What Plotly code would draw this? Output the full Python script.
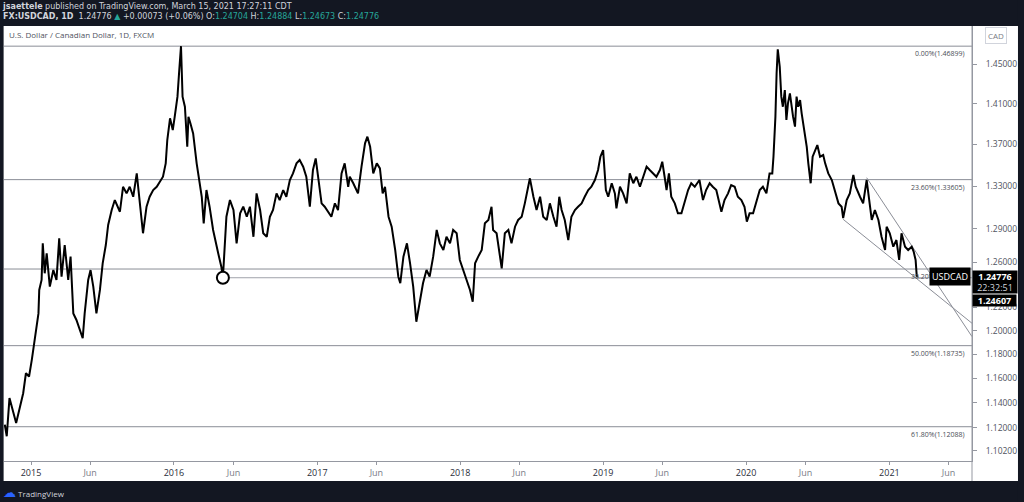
import math
import plotly.graph_objects as go

# ---------------- data ----------------
price_dates = [
    "2014-10-26", "2014-10-31", "2014-11-07", "2014-11-17", "2014-11-24", "2014-12-04", "2014-12-12", "2014-12-19",
    "2014-12-27", "2015-01-03", "2015-01-11", "2015-01-20", "2015-01-22", "2015-01-28", "2015-01-31", "2015-02-05",
    "2015-02-10", "2015-02-18", "2015-02-27", "2015-03-07", "2015-03-14", "2015-03-20", "2015-03-28", "2015-04-06",
    "2015-04-12", "2015-04-19", "2015-04-27", "2015-05-06", "2015-05-13", "2015-05-18", "2015-05-27", "2015-06-02",
    "2015-06-09", "2015-06-17", "2015-06-26", "2015-07-03", "2015-07-11", "2015-07-17", "2015-07-26", "2015-08-03",
    "2015-08-09", "2015-08-16", "2015-08-24", "2015-09-02", "2015-09-10", "2015-09-19", "2015-09-28", "2015-10-06",
    "2015-10-14", "2015-10-23", "2015-10-31", "2015-11-09", "2015-11-18", "2015-11-26", "2015-12-04", "2015-12-11",
    "2015-12-15", "2015-12-22", "2015-12-29", "2016-01-03", "2016-01-10", "2016-01-14", "2016-01-19", "2016-01-23",
    "2016-01-29", "2016-02-04", "2016-02-07", "2016-02-12", "2016-02-19", "2016-02-28", "2016-03-07", "2016-03-12",
    "2016-03-17", "2016-03-24", "2016-04-01", "2016-04-10", "2016-04-23", "2016-05-01", "2016-05-05", "2016-05-14",
    "2016-05-23", "2016-06-01", "2016-06-09", "2016-06-18", "2016-06-26", "2016-07-05", "2016-07-13", "2016-07-22",
    "2016-07-30", "2016-08-08", "2016-08-16", "2016-08-25", "2016-09-02", "2016-09-10", "2016-09-19", "2016-09-27",
    "2016-10-06", "2016-10-14", "2016-10-23", "2016-10-31", "2016-11-09", "2016-11-17", "2016-11-26", "2016-12-04",
    "2016-12-13", "2016-12-21", "2016-12-28", "2017-01-03", "2017-01-12", "2017-01-20", "2017-01-29", "2017-02-06",
    "2017-02-15", "2017-02-23", "2017-03-04", "2017-03-12", "2017-03-21", "2017-03-25", "2017-04-03", "2017-04-15",
    "2017-04-24", "2017-05-03", "2017-05-09", "2017-05-16", "2017-05-24", "2017-06-02", "2017-06-10", "2017-06-17",
    "2017-06-23", "2017-07-02", "2017-07-10", "2017-07-19", "2017-07-27", "2017-08-01", "2017-08-09", "2017-08-18",
    "2017-08-26", "2017-09-03", "2017-09-11", "2017-09-20", "2017-09-28", "2017-10-07", "2017-10-15", "2017-10-24",
    "2017-11-02", "2017-11-10", "2017-11-19", "2017-11-27", "2017-12-06", "2017-12-14", "2017-12-23", "2017-12-31",
    "2018-01-09", "2018-01-17", "2018-01-26", "2018-02-02", "2018-02-08", "2018-02-16", "2018-02-25", "2018-03-05",
    "2018-03-14", "2018-03-22", "2018-03-26", "2018-04-04", "2018-04-12", "2018-04-17", "2018-04-25", "2018-05-04",
    "2018-05-12", "2018-05-21", "2018-05-29", "2018-06-07", "2018-06-15", "2018-06-24", "2018-06-28", "2018-07-07",
    "2018-07-15", "2018-07-24", "2018-08-01", "2018-08-10", "2018-08-18", "2018-08-27", "2018-09-04", "2018-09-11",
    "2018-09-17", "2018-09-25", "2018-10-04", "2018-10-12", "2018-10-21", "2018-10-29", "2018-11-07", "2018-11-15",
    "2018-11-24", "2018-12-02", "2018-12-11", "2018-12-19", "2018-12-25", "2019-01-01", "2019-01-08", "2019-01-14",
    "2019-01-23", "2019-01-31", "2019-02-04", "2019-02-13", "2019-02-21", "2019-03-02", "2019-03-10", "2019-03-19",
    "2019-03-27", "2019-04-05", "2019-04-22", "2019-04-30", "2019-05-17", "2019-05-26", "2019-06-01", "2019-06-07",
    "2019-06-12", "2019-06-18", "2019-06-24", "2019-07-03", "2019-07-11", "2019-07-20", "2019-07-28", "2019-08-06",
    "2019-08-14", "2019-08-23", "2019-09-04", "2019-09-13", "2019-09-21", "2019-09-30", "2019-10-08", "2019-10-17",
    "2019-10-30", "2019-11-07", "2019-11-16", "2019-11-24", "2019-12-03", "2019-12-11", "2019-12-20", "2019-12-28",
    "2020-01-03", "2020-01-10", "2020-01-19", "2020-01-27", "2020-02-05", "2020-02-13", "2020-02-22", "2020-03-01",
    "2020-03-08", "2020-03-11", "2020-03-16", "2020-03-19", "2020-03-22", "2020-03-27", "2020-03-31", "2020-04-04",
    "2020-04-09", "2020-04-13", "2020-04-17", "2020-04-22", "2020-04-26", "2020-04-30", "2020-05-05", "2020-05-09",
    "2020-05-13", "2020-05-18", "2020-05-22", "2020-05-26", "2020-05-30", "2020-06-04", "2020-06-08", "2020-06-14",
    "2020-06-19", "2020-06-25", "2020-07-01", "2020-07-08", "2020-07-16", "2020-07-21", "2020-07-29", "2020-08-07",
    "2020-08-15", "2020-08-24", "2020-09-01", "2020-09-05", "2020-09-14", "2020-09-22", "2020-10-01", "2020-10-07",
    "2020-10-18", "2020-10-26", "2020-11-04", "2020-11-12", "2020-11-17", "2020-11-25", "2020-12-04", "2020-12-12",
    "2020-12-21", "2020-12-25", "2021-01-02", "2021-01-11", "2021-01-19", "2021-01-26", "2021-02-01", "2021-02-10",
    "2021-02-18", "2021-02-27", "2021-03-04", "2021-03-09", "2021-03-12", "2021-03-15",
]
price_close = [
    1.1225, 1.1133, 1.1439, 1.1317, 1.1238, 1.1371, 1.1479, 1.1643,
    1.1616, 1.1754, 1.1950, 1.2149, 1.2353, 1.2441, 1.2769, 1.2500,
    1.2679, 1.2382, 1.2529, 1.2441, 1.2814, 1.2470, 1.2754, 1.2441,
    1.2649, 1.2149, 1.2092, 1.2007, 1.1936, 1.2149, 1.2441, 1.2529,
    1.2382, 1.2149, 1.2353, 1.2589, 1.2754, 1.2937, 1.3075, 1.3168,
    1.3121, 1.3059, 1.3293, 1.3231, 1.3293, 1.3199, 1.3420, 1.3137,
    1.2861, 1.3106, 1.3199, 1.3262, 1.3293, 1.3340, 1.3388, 1.3516,
    1.3742, 1.3956, 1.3840, 1.3972, 1.4172, 1.4409, 1.4690, 1.4172,
    1.4071, 1.3676, 1.3972, 1.3906, 1.3807, 1.3516, 1.3326, 1.3199,
    1.2952, 1.3262, 1.3106, 1.2891, 1.2679, 1.2559, 1.2461, 1.3013,
    1.3168, 1.3075, 1.2769, 1.3044, 1.3106, 1.3013, 1.3106, 1.2829,
    1.3231, 1.3075, 1.2861, 1.2829, 1.3013, 1.3075, 1.3231, 1.3168,
    1.3262, 1.3199, 1.3357, 1.3420, 1.3516, 1.3548, 1.3484, 1.3388,
    1.3106, 1.3452, 1.3564, 1.3388, 1.3137, 1.3106, 1.3059, 1.3013,
    1.3137, 1.3075, 1.3420, 1.3516, 1.3293, 1.3388, 1.3326, 1.3231,
    1.3484, 1.3710, 1.3775, 1.3676, 1.3420, 1.3516, 1.3468, 1.3231,
    1.3293, 1.3013, 1.2921, 1.2709, 1.2470, 1.2412, 1.2649, 1.2769,
    1.2589, 1.2382, 1.2077, 1.2236, 1.2412, 1.2529, 1.2470, 1.2649,
    1.2891, 1.2769, 1.2709, 1.2829, 1.2769, 1.2891, 1.2861, 1.2619,
    1.2529, 1.2441, 1.2353, 1.2250, 1.2589, 1.2649, 1.2709, 1.2952,
    1.2983, 1.3106, 1.2891, 1.2861, 1.2649, 1.2544, 1.2861, 1.2891,
    1.2769, 1.2921, 1.2983, 1.3013, 1.3137, 1.3326, 1.3373, 1.3199,
    1.3075, 1.3199, 1.3013, 1.2983, 1.3137, 1.3013, 1.2921, 1.3199,
    1.3075, 1.2983, 1.2799, 1.3013, 1.3075, 1.3106, 1.3137, 1.3199,
    1.3262, 1.3293, 1.3357, 1.3452, 1.3580, 1.3644, 1.3262, 1.3199,
    1.3326, 1.3231, 1.3091, 1.3293, 1.3231, 1.3137, 1.3420, 1.3326,
    1.3388, 1.3293, 1.3484, 1.3452, 1.3388, 1.3452, 1.3532, 1.3388,
    1.3262, 1.3420, 1.3199, 1.3137, 1.3044, 1.3044, 1.3137, 1.3262,
    1.3326, 1.3293, 1.3357, 1.3168, 1.3262, 1.3326, 1.3293, 1.3262,
    1.3059, 1.3168, 1.3231, 1.3309, 1.3293, 1.3199, 1.3168, 1.3106,
    1.2968, 1.3044, 1.3044, 1.3137, 1.3262, 1.3293, 1.3231, 1.3420,
    1.3420, 1.3580, 1.3972, 1.4409, 1.4657, 1.4479, 1.4172, 1.4071,
    1.4239, 1.3939, 1.4105, 1.4205, 1.4071, 1.3972, 1.3873, 1.4172,
    1.4071, 1.4138, 1.4005, 1.3906, 1.3807, 1.3676, 1.3516, 1.3326,
    1.3580, 1.3644, 1.3693, 1.3580, 1.3596, 1.3516, 1.3420, 1.3357,
    1.3262, 1.3137, 1.3106, 1.3000, 1.3168, 1.3231, 1.3404, 1.3293,
    1.3199, 1.3137, 1.3357, 1.3106, 1.2983, 1.3075, 1.2983, 1.2829,
    1.2709, 1.2921, 1.2861, 1.2739, 1.2799, 1.2619, 1.2861, 1.2739,
    1.2709, 1.2739, 1.2694, 1.2619, 1.2470, 1.2478,
]

fib_pcts = ["0.00%", "23.60%", "38.20%", "50.00%", "61.80%"]
fib_levels = [1.46899, 1.33605, 1.25382, 1.18735, 1.12088]

support_date = "2016-05-05"
support_level = 1.24607
last_price = 1.24776
last_time = "22:32:51"

upper_dates = ["2020-11-04", "2021-07-31"]
upper_vals = [1.3379, 1.1950]
lower_dates = ["2020-09-05", "2021-07-31"]
lower_vals = [1.2989, 1.2064]

x_tick_dates = ["2015-01-01", "2015-06-01", "2016-01-01", "2016-06-01", "2017-01-01", "2017-06-01",
                "2018-01-01", "2018-06-01", "2019-01-01", "2019-06-01", "2020-01-01", "2020-06-01",
                "2021-01-01", "2021-06-01"]
x_tick_labels = ["2015", "Jun", "2016", "Jun", "2017", "Jun", "2018", "Jun", "2019", "Jun", "2020", "Jun",
                 "2021", "Jun"]
y_tick_vals = [1.102, 1.12, 1.14, 1.16, 1.18, 1.20, 1.22, 1.26, 1.29, 1.33, 1.37, 1.41, 1.45]

x_start, x_end = "2014-10-24", "2021-07-31"
y_low, y_high = 1.0939, 1.4902

# ---------------- styling ----------------
DARK = "#131722"
TEAL = "#26a69a"
GREY_LINE = "#8a8d96"
FONT = "Open Sans, sans-serif"
HEAD_FONT = "DejaVu Sans, sans-serif"

fig = go.Figure()

# fib levels (full width)
for lvl in fib_levels:
    fig.add_trace(go.Scatter(x=[x_start, x_end], y=[lvl, lvl], mode="lines",
                             line=dict(color=GREY_LINE, width=1), hoverinfo="skip", showlegend=False))

# horizontal ray from the 2016 low
fig.add_trace(go.Scatter(x=[support_date, x_end], y=[support_level, support_level], mode="lines",
                         line=dict(color="#a0a3ab", width=1), hoverinfo="skip", showlegend=False))

# wedge trendlines
fig.add_trace(go.Scatter(x=upper_dates, y=upper_vals, mode="lines",
                         line=dict(color=GREY_LINE, width=1), hoverinfo="skip", showlegend=False))
fig.add_trace(go.Scatter(x=lower_dates, y=lower_vals, mode="lines",
                         line=dict(color=GREY_LINE, width=1), hoverinfo="skip", showlegend=False))

# price
fig.add_trace(go.Scatter(x=price_dates, y=price_close, mode="lines",
                         line=dict(color="#000000", width=2), hoverinfo="skip", showlegend=False))

# circle at the 2016 low
fig.add_trace(go.Scatter(x=[support_date], y=[support_level], mode="markers",
                         marker=dict(symbol="circle", size=12, color="white",
                                     line=dict(color="#000000", width=2)),
                         hoverinfo="skip", showlegend=False))

annotations = []
# fib labels
for pct, lvl in zip(fib_pcts, fib_levels):
    annotations.append(dict(xref="paper", x=1, xanchor="right", xshift=-5,
                            yref="y", y=math.log10(lvl), yanchor="top", yshift=-1,
                            text=f"{pct}({lvl:.5f})", showarrow=False,
                            font=dict(family=FONT, size=7, color="#4a4d56")))

# USDCAD label
annotations.append(dict(xref="paper", x=1, xanchor="right", xshift=-1,
                        yref="y", y=math.log10(last_price), yanchor="middle", yshift=-1,
                        text="USDCAD", showarrow=False, bgcolor="#000000", borderpad=2,
                        font=dict(family=FONT, size=9, color="white")))
# last price tag
annotations.append(dict(xref="paper", x=1, xanchor="left", xshift=0,
                        yref="y", y=math.log10(last_price), yanchor="top", yshift=6,
                        text=f"<b>{last_price:.5f}</b><br><span style='color:#d1d4dc'>{last_time}</span>",
                        showarrow=False, bgcolor="#000000", borderpad=1, width=42, height=20,
                        align="center", font=dict(family=FONT, size=9, color="white")))
# support level tag
annotations.append(dict(xref="paper", x=1, xanchor="left", xshift=0,
                        yref="y", y=math.log10(support_level), yanchor="middle", yshift=-23,
                        text=f"<b>{support_level:.5f}</b>", showarrow=False, bgcolor="#000000",
                        borderpad=1, width=41, height=9,
                        font=dict(family=FONT, size=9, color="white")))
# CAD box
annotations.append(dict(xref="paper", x=1, xanchor="left", xshift=13,
                        yref="paper", y=1, yanchor="top", yshift=-1,
                        text="CAD", showarrow=False, bgcolor="white", bordercolor="#d1d4dc",
                        borderwidth=1, borderpad=2, font=dict(family=FONT, size=8, color="#787b86")))
# chart title
annotations.append(dict(xref="paper", x=0, xanchor="left", xshift=3,
                        yref="paper", y=1, yanchor="middle", yshift=-8,
                        text="U.S. Dollar / Canadian Dollar, 1D, FXCM", showarrow=False,
                        font=dict(family=FONT, size=8, color="#50535e")))
# header (two lines in one text block)
teal = lambda s: f"<span style='color:{TEAL}'>{s}</span>"
header_text = ("<b>jsaettele</b> published on TradingView.com, March 15, 2021 17:27:11 CDT<br>"
               "<b>FX:USDCAD, 1D</b>  1.24776 " + teal("▲") + " +0.00073 (+0.06%) "
               + "O:" + teal("1.24704") + " H:" + teal("1.24884") + " L:" + teal("1.24673")
               + " C:" + teal("1.24776"))
annotations.append(dict(xref="paper", x=0, xanchor="left", xshift=-3,
                        yref="paper", y=1, yanchor="middle", yshift=14.5,
                        text=header_text, align="left", borderpad=0,
                        showarrow=False, font=dict(family=HEAD_FONT, size=8, color="#d1d4dc")))
# footer
annotations.append(dict(xref="paper", x=0, xanchor="left", xshift=-3,
                        yref="paper", y=0, yanchor="middle", yshift=-31,
                        text=f"<span style='color:#2962ff;font-size:13px'>☁</span> TradingView",
                        showarrow=False, font=dict(family=FONT, size=8, color="#d1d4dc")))

shapes = [
    # dark frame
    dict(type="rect", xref="paper", yref="paper", x0=-0.1, x1=1.2, y0=1.0, y1=1.3,
         fillcolor=DARK, line=dict(width=0), layer="below"),
    dict(type="rect", xref="paper", yref="paper", x0=-0.1, x1=1.2, y0=-0.0461, y1=-0.3,
         fillcolor=DARK, line=dict(width=0), layer="below"),
    dict(type="rect", xref="paper", yref="paper", x0=-0.1, x1=-0.0004, y0=-0.3, y1=1.3,
         fillcolor=DARK, line=dict(width=0), layer="below"),
    dict(type="rect", xref="paper", yref="paper", x0=1.0475, x1=1.2, y0=-0.3, y1=1.3,
         fillcolor=DARK, line=dict(width=0), layer="below"),
    # price axis separator running down through time axis area
    dict(type="line", xref="paper", yref="paper", x0=1, x1=1, y0=-0.0461, y1=1,
         line=dict(color="#9598a1", width=1)),
]

x_tick_text = [f"<span style='color:#2a2e39'>{t}</span>" if t.isdigit() else t for t in x_tick_labels]

fig.update_layout(
    width=1024, height=502,
    margin=dict(l=4, r=52, t=26, b=41),
    paper_bgcolor="white", plot_bgcolor="white",
    showlegend=False,
    annotations=annotations,
    shapes=shapes,
    font=dict(family=FONT),
    xaxis=dict(type="date", range=[x_start, x_end], showgrid=False, zeroline=False,
               showline=True, linecolor="#9598a1", linewidth=1,
               ticks="outside", ticklen=3, tickcolor="#9598a1",
               tickvals=x_tick_dates, ticktext=x_tick_text,
               tickfont=dict(family=FONT, size=9, color="#787b86")),
    yaxis=dict(type="log", side="right", range=[math.log10(y_low), math.log10(y_high)],
               showgrid=False, zeroline=False, showline=True, linecolor="#9598a1", linewidth=1,
               ticks="outside", ticklen=4, tickcolor="#9598a1",
               tickvals=y_tick_vals, ticktext=[f"{v:.5f}" for v in y_tick_vals],
               ticklabelstandoff=7,
               tickfont=dict(family=FONT, size=8.5, color="#50535e")),
)

fig.write_html("out.html", config={"displayModeBar": False},
               post_script="document.body.style.margin='0';document.body.style.overflow='hidden';")
